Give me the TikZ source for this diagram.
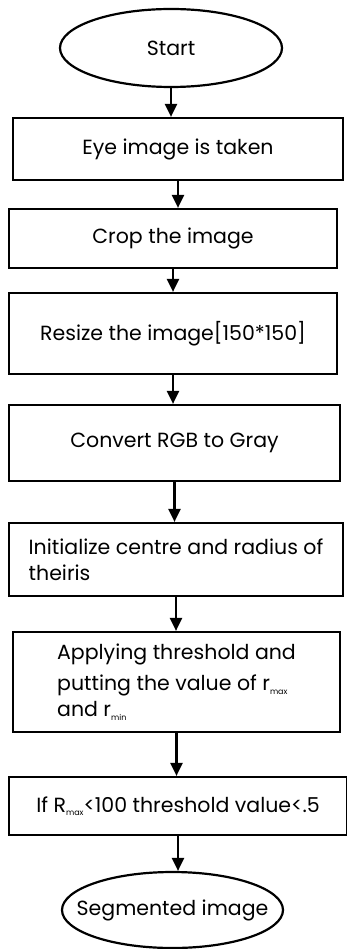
\documentclass[tikz,border=0pt]{standalone}
\usepackage{fontspec}
\setmainfont{Poppins}
\usetikzlibrary{shapes.geometric,arrows.meta}

\newcommand{\lowidx}[1]{\raisebox{-3.5pt}{\fontsize{8}{8}\selectfont #1}}

\tikzset{
    stepbox/.style={draw, rectangle, line width=2.2pt, inner sep=0pt},
    terminal/.style={draw, ellipse, line width=2.2pt, inner sep=0pt},
    flow/.style={line width=2.2pt, -{Triangle[width=12pt,length=13pt]}}
}

\begin{document}
\begin{tikzpicture}[x=1pt, y=1pt, font=\fontsize{20.5}{26}\selectfont]
    % Fix the page size
    \useasboundingbox (0,0) rectangle (347,-949);

    % Terminals (text set as a centred label so the ellipse keeps its size)
    \node (start) at (171,-48) [terminal, minimum width=222pt, minimum height=78pt,
        label=center:{Start}] {};
    \node (stop) at (172.5,-910) [terminal, minimum width=221pt, minimum height=76pt,
        label=center:{Segmented image}] {};

    % Process steps
    \node (take) at (178,-149) [stepbox, minimum width=330pt, minimum height=62pt] {Eye image is taken};
    \node (crop) at (173,-238.5) [stepbox, minimum width=328pt, minimum height=59pt] {Crop the image};
    \node (resize) at (173,-333.5) [stepbox, minimum width=328pt, minimum height=81pt] {Resize the image[150*150]};
    \node (gray) at (174.5,-443) [stepbox, minimum width=331pt, minimum height=76pt] {Convert RGB to Gray};
    \node (init) at (176,-559.5) [stepbox, minimum width=334pt, minimum height=73pt,
        align=left] {Initialize centre and radius of\\theiris};
    \node (thresh) at (176.5,-682) [stepbox, minimum width=327pt, minimum height=100pt,
        align=left] {Applying threshold and\\[5pt]putting the value of r\lowidx{max}\\and r\lowidx{min}};
    \node (check) at (178,-806) [stepbox, minimum width=338pt, minimum height=58pt] {If R\lowidx{max}<100 threshold value<.5};

    % Arrows
    \draw[flow] (start.south) -- (start.south |- take.north);
    \draw[flow] (take.south) -- (take.south |- crop.north);
    \draw[flow] (crop.south) -- (crop.south |- resize.north);
    \draw[flow] (resize.south) -- (resize.south |- gray.north);
    \draw[flow] (gray.south) -- (gray.south |- init.north);
    \draw[flow] (init.south) -- (init.south |- thresh.north);
    \draw[flow] (thresh.south) -- (thresh.south |- check.north);
    \draw[flow] (check.south) -- (check.south |- stop.north);
\end{tikzpicture}
\end{document}
